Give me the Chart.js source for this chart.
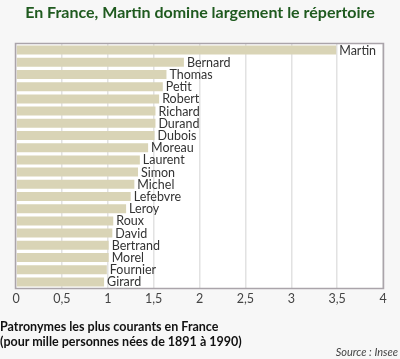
<!DOCTYPE html>
<html>
<head>
<meta charset="utf-8">
<script src="https://cdn.jsdelivr.net/npm/chart.js@4"></script>
<style>
    html, body { margin: 0; padding: 0; background: #f7f7f7; }
    #wrap { position: relative; width: 400px; height: 359px; overflow: hidden; font-family: 'Lato', sans-serif; }
    #chart { position: absolute; left: 0; top: 0; }
    .title { position: absolute; left: 0; width: 400px; top: 2px; text-align: center; color: #1f5a1f; font-weight: bold; font-size: 16px; }
    .sub { position: absolute; left: 0; top: 319px; color: #111; font-weight: bold; font-size: 12.5px; line-height: 15px; }
    .source { position: absolute; right: 2px; top: 345px; color: #444; font-style: italic; font-size: 11px; }
</style>
</head>
<body>
<div id="wrap">
    <canvas id="chart" width="400" height="359"></canvas>
    <div class="title">En France, Martin domine largement le répertoire</div>
    <div class="sub">Patronymes les plus courants en France<br>(pour mille personnes nées de 1891 à 1990)</div>
    <div class="source">Source : Insee</div>
</div>
<script>
// Surnames, most common first
const names = ['Martin', 'Bernard', 'Thomas', 'Petit', 'Robert', 'Richard', 'Durand', 'Dubois', 'Moreau', 'Laurent',
    'Simon', 'Michel', 'Lefebvre', 'Leroy', 'Roux', 'David', 'Bertrand', 'Morel', 'Fournier', 'Girard'];

// Per thousand people born 1891-1990
const perThousand = [3.49, 1.83, 1.64, 1.60, 1.56, 1.52, 1.52, 1.51, 1.44, 1.35,
    1.33, 1.29, 1.25, 1.20, 1.06, 1.05, 1.01, 1.01, 0.99, 0.96];

const xTicks = [0, 0.5, 1, 1.5, 2, 2.5, 3, 3.5, 4];

const barColor = '#d9d4b6';
const frameColor = '#aaa4aa';

// White plot background + frame
const framePlugin = {
    id: 'frame',
    beforeDraw(chart) {
        const { ctx, chartArea: a } = chart;
        ctx.save();
        ctx.fillStyle = '#ffffff';
        ctx.fillRect(a.left, a.top, a.right - a.left, a.bottom - a.top);
        ctx.restore();
    },
    afterDraw(chart) {
        const { ctx, chartArea: a } = chart;
        ctx.save();
        ctx.strokeStyle = frameColor;
        ctx.lineWidth = 1.5;
        ctx.strokeRect(a.left - 0.5, a.top - 0.5, a.right - a.left + 1, a.bottom - a.top + 1);
        ctx.restore();
    }
};

// Name written just after the end of each bar
const nameLabels = {
    id: 'nameLabels',
    afterDatasetsDraw(chart) {
        const { ctx } = chart;
        const meta = chart.getDatasetMeta(0);
        ctx.save();
        ctx.font = "12.5px 'Lato', sans-serif";
        ctx.fillStyle = '#333';
        ctx.textBaseline = 'middle';
        ctx.textAlign = 'left';
        meta.data.forEach((bar, i) => {
            ctx.fillText(names[i], bar.x + 3, bar.y + 0.5);
        });
        ctx.restore();
    }
};

new Chart(document.getElementById('chart'), {
    type: 'bar',
    data: {
        labels: names,
        datasets: [{
            data: perThousand,
            backgroundColor: barColor,
            borderWidth: 0,
            barPercentage: 0.74,
            categoryPercentage: 1
        }]
    },
    options: {
        indexAxis: 'y',
        responsive: false,
        animation: false,
        layout: { padding: { left: 16, right: 17, top: 44, bottom: 51 } },
        plugins: { legend: { display: false }, tooltip: { enabled: false } },
        scales: {
            x: {
                min: 0,
                max: 4,
                afterBuildTicks(scale) {
                    scale.ticks = xTicks.map(v => ({ value: v }));
                },
                afterFit(scale) { scale.height = 20; },
                grid: { color: '#e2e2e2', lineWidth: 1.5, drawTicks: false },
                border: { display: false },
                ticks: {
                    padding: 3,
                    color: '#444',
                    font: { family: "'Lato', sans-serif", size: 12.5 },
                    callback: v => String(v).replace('.', ',')
                }
            },
            y: {
                display: false
            }
        }
    },
    plugins: [framePlugin, nameLabels]
});
</script>
</body>
</html>
